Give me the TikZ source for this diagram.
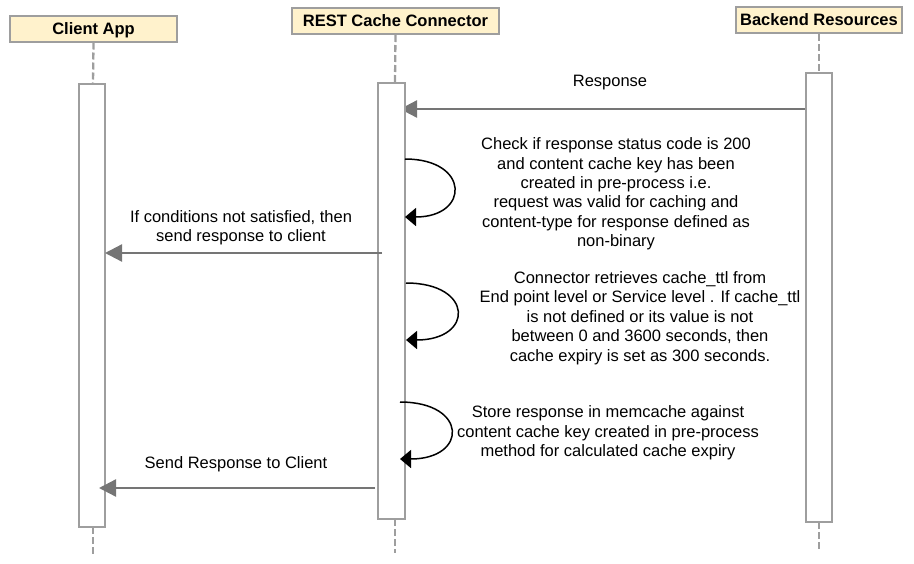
\documentclass[tikz,border=0pt]{standalone}
\usepackage{fontspec}
\setmainfont{Liberation Sans}
\usetikzlibrary{arrows.meta}
\definecolor{hdrfill}{HTML}{FFF2CC}
\definecolor{lgray}{HTML}{9E9E9E}
\definecolor{agray}{HTML}{757575}
\begin{document}
\begin{tikzpicture}[x=1pt,y=-1pt,
  hdr/.style={draw=lgray, line width=2pt, fill=hdrfill, font=\fontsize{16.5}{19}\selectfont\bfseries, inner sep=0pt, minimum height=26pt, text depth=0pt},
  act/.style={draw=lgray, line width=2.3pt, fill=white, minimum width=26pt, inner sep=0pt},
  life/.style={draw=lgray, line width=2.3pt, dash pattern=on 7pt off 3pt},
  msg/.style={draw=agray, line width=2.3pt, -{Triangle[length=17pt,width=17pt]}},
  selfmsg/.style={draw=black, line width=1.5pt, -{Triangle[length=11pt,width=18pt]}},
  lbl/.style={font=\fontsize{16.5}{19.4}\selectfont, align=center, inner sep=0pt}]
\path[use as bounding box] (0,0) rectangle (914,563);

% headers
\node[hdr, minimum width=167pt] (chead) at (93.5,28.5) {Client App};
\node[hdr, minimum width=207pt] (rhead) at (395.5,21) {REST Cache Connector};
\node[hdr, minimum width=166pt] (bhead) at (819,20) {Backend Resources};

% lifeline end points
\coordinate (cacttop) at (93,84);
\coordinate (racttop) at (395,83);
\coordinate (bacttop) at (819,73);
\coordinate (cactbot) at (93,527);
\coordinate (ractbot) at (395,519);
\coordinate (bactbot) at (819,522);
\coordinate (cend) at (93,555);
\coordinate (rend) at (395,553);
\coordinate (bend) at (819,550);

% lifelines
\draw[life] (chead.south) -- (cacttop);
\draw[life] (rhead.south) -- (racttop);
\draw[life] (bhead.south) -- (bacttop);
\draw[life] (cactbot) -- (cend);
\draw[life] (ractbot) -- (rend);
\draw[life] (bactbot) -- (bend);

% Response arrow (drawn under the REST box)
\coordinate (resptip) at (400,109);
\node[act, minimum height=449pt] (bact) at (819,297.5) {};
\draw[msg] (bact.west |- resptip) -- (resptip);

% activation boxes
\node[act, minimum height=443pt] (cact) at (92,305.5) {};
\node[act, minimum height=436pt, minimum width=27pt] (ract) at (391.5,301) {};

% labels
\node[lbl] (lresp) at (610,83) {Response};
\node[lbl] (lcheck) at (616,194) {Check if response status code is 200\\and content cache key has been\\created in pre-process i.e.\\request was valid for caching and\\content-type for response defined as\\non-binary};
\node[lbl] (lttl) at (640,318) {Connector retrieves cache\_ttl from\\End point level or Service level . If cache\_ttl\\is not defined or its value is not\\between 0 and 3600 seconds, then\\cache expiry is set as 300 seconds.};
\node[lbl] (lstore) at (608,433) {Store response in memcache against\\content cache key created in pre-process\\method for calculated cache expiry};
\node[lbl] (lcond) at (241,228) {If conditions not satisfied, then\\send response to client};
\node[lbl] (lsend) at (236,464) {Send Response to Client};

% messages to client
\coordinate (condtip) at (105,253);
\coordinate (condstart) at (382,253);
\draw[msg] (condstart) -- (condtip);
\coordinate (sendtip) at (99,488);
\coordinate (sendstart) at (375,488);
\draw[msg] (sendstart) -- (sendtip);

% self loops
\coordinate (s1a) at (405,159);
\coordinate (s1b) at (405,217);
\draw[selfmsg] (s1a) .. controls (470,159) and (470,217) .. (s1b);
\coordinate (s2a) at (406,283);
\coordinate (s2b) at (406,340);
\draw[selfmsg] (s2a) .. controls (474,283) and (474,340) .. (s2b);
\coordinate (s3a) at (400,402);
\coordinate (s3b) at (400,459);
\draw[selfmsg] (s3a) .. controls (468,402) and (468,459) .. (s3b);
\end{tikzpicture}
\end{document}
